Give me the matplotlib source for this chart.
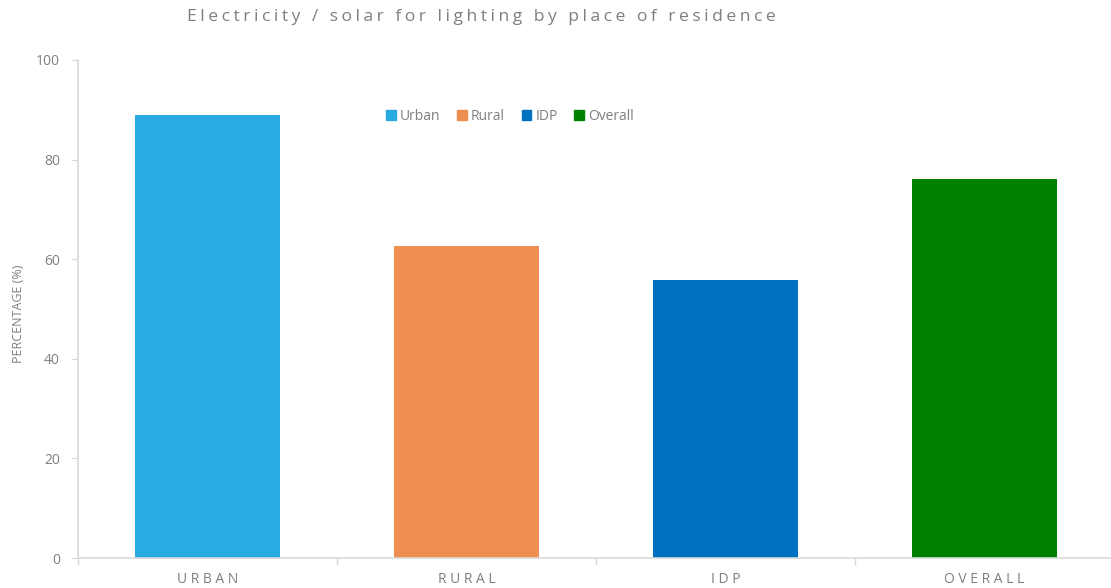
import matplotlib.pyplot as plt
from matplotlib.patches import Patch

# datos
categorias = ["URBAN", "RURAL", "IDP", "OVERALL"]
nombres = ["Urban", "Rural", "IDP", "Overall"]
valores = [89.0, 62.7, 55.9, 76.2]
colores = ["#29abe2", "#ee8f4f", "#0070c0", "#008000"]

gris = "#7f7f7f"
plt.rcParams['font.family'] = ['Open Sans', 'DejaVu Sans']

fig = plt.figure(figsize=(11.11, 5.88), dpi=100)
ax = fig.add_axes([78/1111, 30/588, 1036/1111, 498/588])

x = range(len(categorias))
ax.bar(x, valores, width=0.56, color=colores, zorder=2)

ax.set_xlim(-0.5, 3.5)
ax.set_ylim(0, 100)
ax.set_yticks([0, 20, 40, 60, 80, 100])
ax.set_xticks(list(x))
ax.set_xticklabels([" ".join(c) for c in categorias], color=gris, fontsize=10)
ax.set_xticks([-0.5, 0.5, 1.5, 2.5], minor=True)
ax.tick_params(axis="x", which="major", length=0, pad=10)
ax.tick_params(axis="x", which="minor", length=5, color="#d9d9d9", width=1)
ax.tick_params(axis="y", colors=gris, labelsize=10, length=5, color="#d9d9d9", pad=8)
for s in ["top", "right"]:
    ax.spines[s].set_visible(False)
for s in ["left", "bottom"]:
    ax.spines[s].set_color("#d9d9d9")
    ax.spines[s].set_linewidth(1.2)

ax.set_ylabel("PERCENTAGE (%)", color=gris, fontsize=9)
ax.yaxis.set_label_coords(-0.051, 0.49)

titulo = "Electricity / solar for lighting by place of residence"
fig.text(481/1111, 1 - 17/588, "\u200a\u200a".join(titulo), ha="center", va="center",
         color=gris, fontsize=12.6)

handles = [Patch(color=c, label=n) for c, n in zip(colores, nombres)]
fig.legend(handles=handles, loc="center", bbox_to_anchor=(510/1111, 1 - 116/588),
           ncol=4, frameon=False, fontsize=10, handlelength=0.7, handleheight=0.7,
           handletextpad=0.3, columnspacing=1.2, labelcolor=gris)

fig.savefig("out.png", dpi=100)
